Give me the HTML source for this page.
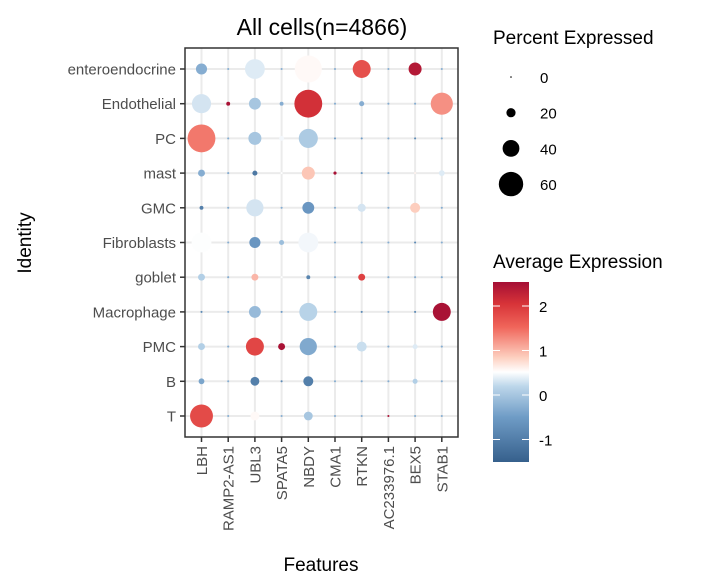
<!DOCTYPE html>
<html><head><meta charset="utf-8"><style>
body{margin:0;background:#fff;}
svg{display:block;font-family:"Liberation Sans",Arial,sans-serif;}
</style></head><body>
<svg id="chart" width="719" height="582" viewBox="0 0 719 582">
<defs>
<linearGradient id="cbar" x1="0" y1="1" x2="0" y2="0">
<stop offset="0" stop-color="#36608c"/><stop offset="0.25" stop-color="#6f9cc6"/><stop offset="0.42" stop-color="#bcd6ea"/><stop offset="0.5" stop-color="#ffffff"/><stop offset="0.58" stop-color="#fdd0c0"/><stop offset="0.75" stop-color="#f0655a"/><stop offset="0.88" stop-color="#d73338"/><stop offset="1" stop-color="#a50f35"/>
</linearGradient>
</defs>
<text x="322" y="35" font-size="23" text-anchor="middle" fill="#000">All cells(n=4866)</text>
<g id="grid"></g>
<g id="dots"></g>
<rect x="185" y="48" width="273" height="389" fill="none" stroke="#333" stroke-width="1.5"/>
<g id="axes"></g>
<text transform="translate(31,243) rotate(-90)" font-size="19" text-anchor="middle" fill="#000">Identity</text>
<text x="321" y="571" font-size="19" text-anchor="middle" fill="#000">Features</text>
<g id="sizeLegend">
<text x="493" y="44" font-size="19" fill="#000">Percent Expressed</text>
</g>
<g id="colorLegend">
<text x="493" y="268" font-size="19" fill="#000">Average Expression</text>
<rect x="493" y="282" width="36" height="180" fill="url(#cbar)"/>
</g>
</svg>
<script>
const features = ["LBH","RAMP2-AS1","UBL3","SPATA5","NBDY","CMA1","RTKN","AC233976.1","BEX5","STAB1"];
const identities = ["enteroendocrine","Endothelial","PC","mast","GMC","Fibroblasts","goblet","Macrophage","PMC","B","T"];
const pctExpressed = [
 [24,0.3,47,0.3,66,0.3,42,0.3,29,0.3],
 [45,5,26,5,68,0.3,8,0.3,0.3,53],
 [68,0.3,29,8,45,0.3,0.3,0.3,0.3,0.3],
 [13,0.3,8,0.3,29,3,0.3,0.3,0.3,10],
 [5,0.3,40,0.3,26,0.3,16,0.3,21,0.3],
 [47,0.3,24,8,47,0.3,0.3,0.3,0.3,0.3],
 [13,0.3,13,0.3,5,0.3,13,0.3,0.3,0.3],
 [0.3,0.3,26,0.3,42,0.3,0.3,0.3,0.3,42],
 [13,0.3,42,13,40,0.3,21,0.3,8,0.3],
 [10,0.3,18,0.3,21,0.3,0.3,0.3,8,0.3],
 [55,0.3,18,0.3,18,0.3,0.3,0.3,0.3,0.3]
];
const avgExpression = [
 [-0.3,-0.3,0.35,-0.3,0.55,-0.3,1.75,-0.3,2.4,-0.3],
 [0.3,2.5,0.0,-0.3,2.1,-0.3,-0.3,-0.3,-0.3,1.25],
 [1.4,-0.3,0.0,0.45,0.05,-0.5,-0.5,-0.3,-0.8,-0.3],
 [-0.3,-0.3,-1.1,0.5,0.9,2.5,-0.5,-0.3,0.6,0.35],
 [-1.0,-0.3,0.3,-0.3,-0.6,-0.3,0.3,-0.3,0.85,-0.3],
 [0.5,-0.3,-0.6,-0.1,0.45,-0.3,-0.3,-0.3,-0.8,-0.3],
 [0.1,-0.3,1.0,0.5,-0.9,-0.3,1.9,-0.3,-0.3,-0.3],
 [-0.8,-0.3,-0.15,-0.5,0.15,-0.3,-0.8,-0.3,-0.8,2.5],
 [0.1,-0.3,1.85,2.5,-0.35,-0.3,0.25,-0.3,0.35,-0.3],
 [-0.4,-0.3,-1.0,-0.8,-1.0,-0.3,-0.3,-0.3,0.1,-0.3],
 [1.8,-0.3,0.55,-0.3,0.0,-0.3,-0.3,2.5,-0.3,-0.3]
];
const sizeTicks = [0,20,40,60];
const colorTicks = [2,1,0,-1];

const NS="http://www.w3.org/2000/svg";
function mk(tag,attrs,parent){const e=document.createElementNS(NS,tag);for(const k in attrs)e.setAttribute(k,attrs[k]);parent.appendChild(e);return e;}
const xScale=i=>201.5+i*26.7;
const yScale=j=>69+j*34.7;
const rScale=p=>1+0.19*p;
const cMin=-1.52,cMax=2.54;
const stops=[[0,[54,96,140]],[0.25,[111,156,198]],[0.42,[188,214,234]],[0.5,[255,255,255]],[0.58,[253,208,192]],[0.75,[240,101,90]],[0.88,[215,51,56]],[1,[165,15,53]]];
function color(v){let t=(v-cMin)/(cMax-cMin);t=Math.max(0,Math.min(1,t));
 for(let i=1;i<stops.length;i++){if(t<=stops[i][0]){const a=stops[i-1],b=stops[i];const f=(t-a[0])/(b[0]-a[0]);
 return "rgb("+a[1].map((c,k)=>Math.round(c+(b[1][k]-c)*f)).join(",")+")";}}return "rgb(165,15,53)";}
const cbY=v=>395-v*44.5;

const grid=document.getElementById('grid'),dots=document.getElementById('dots'),axes=document.getElementById('axes');
features.forEach((f,i)=>{
 const l=mk('line',{x1:xScale(i),x2:xScale(i),y1:48,y2:437,stroke:'#ebebeb','stroke-width':2},grid);
 
 
 const t=mk('line',{x1:xScale(i),x2:xScale(i),y1:437,y2:442,stroke:'#333','stroke-width':1.5},axes);
 
 
 const tx=mk('text',{transform:`translate(${xScale(i)+5.5},446) rotate(-90)`,'font-size':15,'text-anchor':'end',fill:'#4d4d4d'},axes);
 tx.textContent=f;
 
 
});
identities.forEach((n,j)=>{
 const l=mk('line',{x1:185,x2:458,y1:yScale(j),y2:yScale(j),stroke:'#ebebeb','stroke-width':2},grid);
 
 
 const t=mk('line',{x1:180,x2:185,y1:yScale(j),y2:yScale(j),stroke:'#333','stroke-width':1.5},axes);
 
 
 const tx=mk('text',{x:176,y:yScale(j)+5.5,'font-size':15,'text-anchor':'end',fill:'#4d4d4d'},axes);
 tx.textContent=n;
 
 
});
identities.forEach((n,j)=>{features.forEach((f,i)=>{
 const c=mk('circle',{cx:xScale(i),cy:yScale(j),r:rScale(pctExpressed[j][i]),fill:color(avgExpression[j][i])},dots);
 
 
});});
const sl=document.getElementById('sizeLegend');
sizeTicks.forEach((p,k)=>{
 const y=77+k*35.7;
 const c=mk('circle',{cx:511,cy:y,r:Math.max(0.8,rScale(p)-0.2),fill:'#000'},sl);
 
 
 const t=mk('text',{x:540,y:y+6,'font-size':15,fill:'#000'},sl);
 t.textContent=p;
 
 
});
const cl=document.getElementById('colorLegend');
colorTicks.forEach(v=>{
 const y=cbY(v);
 const a=mk('line',{x1:493,x2:500,y1:y,y2:y,stroke:'#fff','stroke-width':1},cl);
 
 
 const b=mk('line',{x1:522,x2:529,y1:y,y2:y,stroke:'#fff','stroke-width':1},cl);
 
 
 const t=mk('text',{x:539,y:y+6,'font-size':15,fill:'#000'},cl);
 t.textContent=v;
 
 
});
</script>
</body></html>
